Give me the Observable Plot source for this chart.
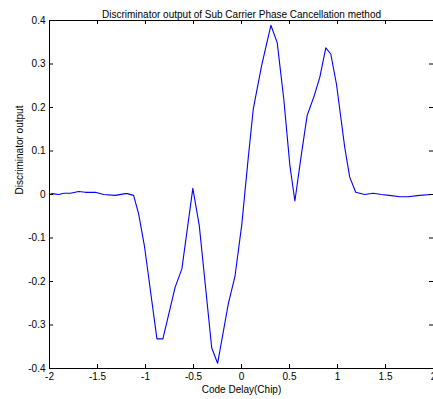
<!DOCTYPE html>
<html>
<head>
<meta charset="utf-8">
<script src="https://cdn.jsdelivr.net/npm/d3@7"></script>
<script src="https://cdn.jsdelivr.net/npm/@observablehq/plot@0.6"></script>
<style>
  html, body { margin: 0; padding: 0; background: #fff; }
  #chart svg { display: block; }
</style>
</head>
<body>
<div id="chart"></div>
<script>
const titleText = "Discriminator output of Sub Carrier Phase Cancellation method";
const xLabel = "Code Delay(Chip)";
const yLabel = "Discriminator output";

const xTicks = [-2, -1.5, -1, -0.5, 0, 0.5, 1, 1.5, 2];
const yTicks = [-0.4, -0.3, -0.2, -0.1, 0, 0.1, 0.2, 0.3, 0.4];

const codeDelay = [
  -2.0, -1.972, -1.903, -1.851, -1.782, -1.696, -1.626, -1.522, -1.436, -1.314,
  -1.21, -1.19, -1.124, -1.072, -1.01, -0.881, -0.819, -0.691, -0.621, -0.507,
  -0.44, -0.31, -0.249, -0.137, -0.068, 0.002, 0.071, 0.123, 0.21, 0.306,
  0.372, 0.44, 0.504, 0.556, 0.625, 0.684, 0.753, 0.816, 0.878, 0.93,
  0.989, 1.075, 1.127, 1.19, 1.283, 1.37, 1.457, 1.54, 1.647, 1.733,
  1.855, 1.976, 2.0
];
const discOutput = [
  0.000, 0.002, 0.000, 0.003, 0.003, 0.007, 0.005, 0.005, 0.000, -0.002,
  0.002, 0.002, -0.002, -0.044, -0.12, -0.332, -0.332, -0.213, -0.171, 0.014,
  -0.071, -0.353, -0.388, -0.251, -0.188, -0.071, 0.086, 0.197, 0.297, 0.389,
  0.349, 0.22, 0.067, -0.015, 0.094, 0.182, 0.224, 0.27, 0.337, 0.323,
  0.254, 0.109, 0.04, 0.005, 0.0, 0.003, 0.0, -0.002, -0.005, -0.005,
  -0.002, 0.0, 0.0
];

const data = codeDelay.map((x, i) => ({x, y: discOutput[i]}));

const W = 433, H = 399;
const mL = 49, mR = 0, mT = 20, mB = 31;
const frameW = W - mL - mR, frameH = H - mT - mB;
const tickLen = 4;
const fmt = d => String(d);

const chart = Plot.plot({
  width: W,
  height: H,
  marginLeft: mL,
  marginRight: mR,
  marginTop: mT,
  marginBottom: mB,
  style: {fontFamily: "'Liberation Sans', Arial, Helvetica, sans-serif", fontSize: "10px", background: "#fff", color: "#000"},
  x: {domain: [-2, 2]},
  y: {domain: [-0.4, 0.4]},
  marks: [
    Plot.line(data, {x: "x", y: "y", stroke: "#0000ff", strokeWidth: 1.1}),
    Plot.frame({stroke: "#000", strokeWidth: 1}),
    // inward ticks bottom/top
    Plot.tickX(xTicks, {x: d => d, stroke: "#000", insetTop: frameH - tickLen}),
    Plot.tickX(xTicks, {x: d => d, stroke: "#000", insetBottom: frameH - tickLen}),
    // inward ticks left/right
    Plot.tickY(yTicks, {y: d => d, stroke: "#000", insetRight: frameW - tickLen}),
    Plot.tickY(yTicks, {y: d => d, stroke: "#000", insetLeft: frameW - tickLen}),
    Plot.axisX({ticks: xTicks, tickFormat: fmt, tickSize: 0, tickPadding: 4, label: null, fontSize: 10}),
    Plot.axisY({ticks: yTicks, tickFormat: fmt, tickSize: 0, tickPadding: 4, label: null, fontSize: 10}),
    Plot.text([xLabel], {frameAnchor: "bottom", dy: 24, lineAnchor: "bottom", fontSize: 10}),
    Plot.text([yLabel], {frameAnchor: "left", dx: -30, rotate: -90, fontSize: 10}),
    Plot.text([titleText], {frameAnchor: "top", dy: -10, fontSize: 10})
  ]
});

document.getElementById("chart").appendChild(chart);
</script>
</body>
</html>
